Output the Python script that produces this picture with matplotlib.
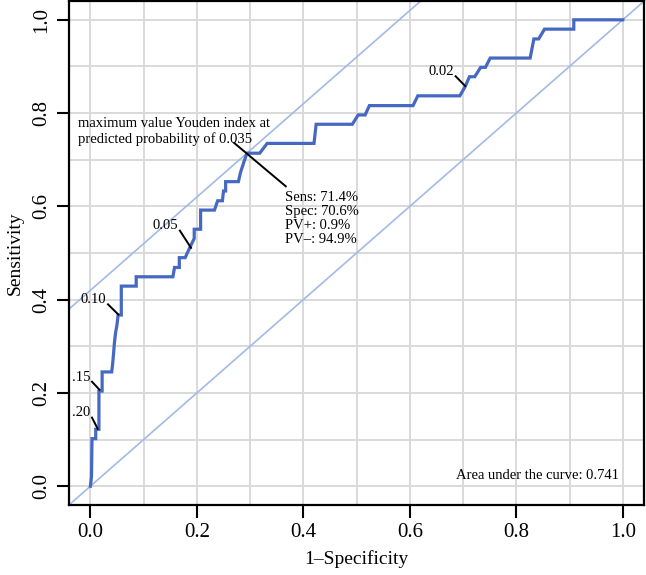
import matplotlib
matplotlib.use("Agg")
import matplotlib.pyplot as plt
import numpy as np

plt.rcParams['font.family'] = ['Liberation Serif', 'DejaVu Serif']

# ROC curve vertices (1-specificity, sensitivity)
fpr = [0.000, 0.002, 0.003, 0.010, 0.010, 0.016, 0.016, 0.022, 0.022, 0.040,
       0.042, 0.045, 0.047, 0.050, 0.052, 0.058, 0.058, 0.086, 0.086, 0.155,
       0.158, 0.167, 0.167, 0.178, 0.186, 0.195, 0.195, 0.207, 0.207, 0.233,
       0.239, 0.248, 0.250, 0.254, 0.254, 0.278, 0.282, 0.288, 0.294, 0.318,
       0.332, 0.420, 0.424, 0.492, 0.503, 0.516, 0.524, 0.606, 0.615, 0.694,
       0.704, 0.712, 0.722, 0.733, 0.742, 0.751, 0.826, 0.833, 0.842, 0.853,
       0.908, 0.908, 1.000]
tpr = [0.000, 0.020, 0.102, 0.102, 0.122, 0.122, 0.204, 0.204, 0.245, 0.245,
       0.265, 0.306, 0.327, 0.347, 0.367, 0.367, 0.429, 0.429, 0.449, 0.449,
       0.469, 0.469, 0.490, 0.490, 0.510, 0.531, 0.551, 0.551, 0.592, 0.592,
       0.612, 0.612, 0.633, 0.633, 0.653, 0.653, 0.673, 0.694, 0.714, 0.714,
       0.735, 0.735, 0.776, 0.776, 0.796, 0.796, 0.816, 0.816, 0.837, 0.837,
       0.857, 0.878, 0.878, 0.898, 0.898, 0.918, 0.918, 0.959, 0.959, 0.980,
       0.980, 1.000, 1.000]

# Youden point and summary
youden_x, youden_y = 0.294, 0.714
youden_j = 0.42
auc = 0.741
stats_text = "Sens: 71.4%\nSpec: 70.6%\nPV+: 0.9%\nPV\u2013: 94.9%"

# threshold labels: (text, label x, label y, curve x, curve y)
cut_labels = [
    (".20", 0.000, 0.157, 0.0137, 0.123),
    (".15", 0.000, 0.234, 0.0169, 0.207),
    ("0.10", 0.030, 0.400, 0.0525, 0.368),
    ("0.05", 0.165, 0.558, 0.189, 0.511),
    ("0.02", 0.683, 0.889, 0.704, 0.858),
]

curve_col = '#4568C2'
diag_col = '#A3BAE6'

fig = plt.figure(figsize=(6.46, 5.75), dpi=100)
ax = fig.add_axes([0.107, 0.122, 0.890, 0.876])

ax.set_xlim(-0.04, 1.04)
ax.set_ylim(-0.04, 1.04)

# grid every 0.1
for g in np.arange(0, 1.01, 0.1):
    ax.axvline(g, color='#D9D9D9', lw=1.4, zorder=0)
    ax.axhline(g, color='#D9D9D9', lw=1.4, zorder=0)

# reference diagonal and Youden line
xs = np.array([-0.1, 1.1])
ax.plot(xs, xs, color=diag_col, lw=1.2, zorder=1)
ax.plot(xs, xs + youden_j, color=diag_col, lw=1.2, zorder=1)

ax.plot(fpr, tpr, color=curve_col, lw=2.3, zorder=3, solid_joinstyle='miter')

# cutoff labels
for txt, lx, ly, cx, cy in cut_labels:
    ax.text(lx, ly, txt, ha='right', va='center', fontsize=10.5, zorder=4)
    ax.plot([lx + 0.003, cx], [ly - 0.01, cy], color='black', lw=1.4, zorder=4)

# Youden annotation
ax.text(-0.024, 0.760, "maximum value Youden index at\npredicted probability of 0.035",
        ha='left', va='center', fontsize=10.5, linespacing=1.2, zorder=4)
ax.plot([0.270, 0.367], [0.736, 0.643], color='black', lw=1.4, zorder=4)
ax.text(0.366, 0.573, stats_text, ha='left', va='center', fontsize=10.5,
        linespacing=1.1, zorder=4)

ax.text(0.993, 0.024, "Area under the curve: %.3f" % auc, ha='right', va='center',
        fontsize=10.5, zorder=4)

ax.set_xticks(np.arange(0, 1.01, 0.2))
ax.set_yticks(np.arange(0, 1.01, 0.2))
ax.set_xticklabels(["%.1f" % v for v in np.arange(0, 1.01, 0.2)], fontsize=15)
ax.set_yticklabels(["%.1f" % v for v in np.arange(0, 1.01, 0.2)], fontsize=15,
                   rotation=90, va='center')
ax.tick_params(length=9, width=1.5, pad=4)
for s in ax.spines.values():
    s.set_linewidth(1.6)

ax.set_xlabel("1\u2013Specificity", fontsize=14, labelpad=6)
ax.set_ylabel("Sensitivity", fontsize=14, labelpad=6)

fig.savefig("out.png", dpi=100)
